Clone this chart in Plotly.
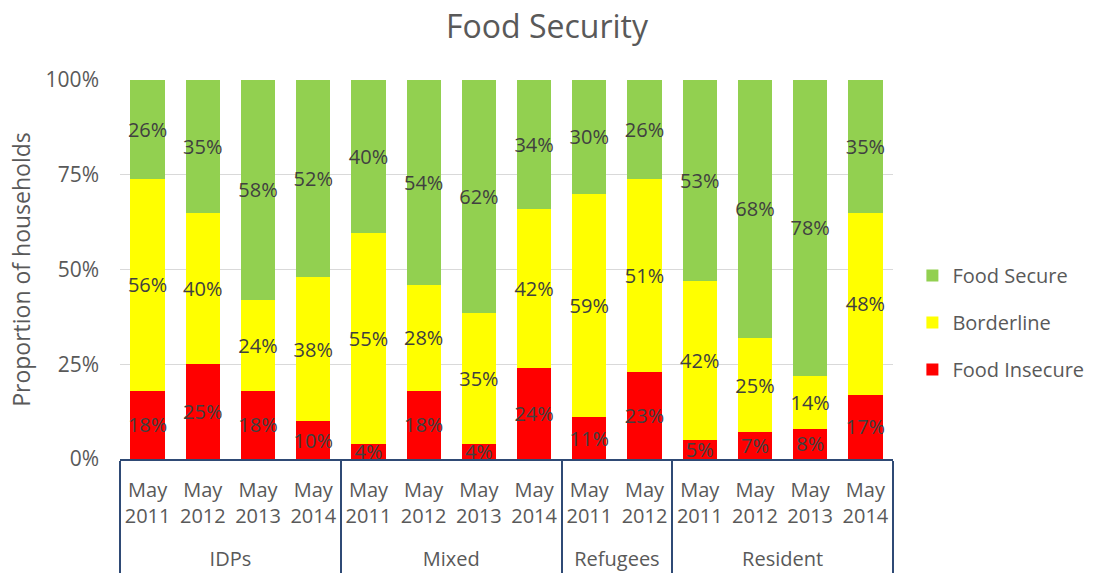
import plotly.graph_objects as go

groups = ["<br>IDPs"] * 4 + ["<br>Mixed"] * 4 + ["<br>Refugees"] * 2 + ["<br>Resident"] * 4
periods = ["May<br>2011", "May<br>2012", "May<br>2013", "May<br>2014",
           "May<br>2011", "May<br>2012", "May<br>2013", "May<br>2014",
           "May<br>2011", "May<br>2012",
           "May<br>2011", "May<br>2012", "May<br>2013", "May<br>2014"]

food_insecure = [18, 25, 18, 10, 4, 18, 4, 24, 11, 23, 5, 7, 8, 17]
borderline = [56, 40, 24, 38, 55, 28, 35, 42, 59, 51, 42, 25, 14, 48]
food_secure = [26, 35, 58, 52, 40, 54, 62, 34, 30, 26, 53, 68, 78, 35]

FONT = "Open Sans"
TXT = "#595959"

series = [
    ("Food Insecure", food_insecure, "#FF0000", 3),
    ("Borderline", borderline, "#FFFF00", 2),
    ("Food Secure", food_secure, "#92D050", 1),
]

fig = go.Figure()
for name, vals, col, rank in series:
    fig.add_trace(go.Bar(
        name=name, x=[groups, periods], y=vals, legendgroup=name, legendrank=rank,
        marker=dict(color=col, line=dict(width=0)),
        text=[f"{v}%" for v in vals], textposition="inside",
        insidetextanchor="middle", textangle=0,
        textfont=dict(family=FONT, size=20, color="#404040"),
        cliponaxis=False,
    ))

fig.update_layout(
    barmode="stack", barnorm="percent", bargap=0.38,
    width=1094, height=579,
    margin=dict(l=120, r=201, t=80, b=120),
    paper_bgcolor="white", plot_bgcolor="white",
    font=dict(family=FONT, color=TXT, size=20),
    title=dict(text="Food Security", x=0.5, xanchor="center", y=0.953, yanchor="middle",
               font=dict(size=32, color=TXT, family=FONT)),
    uniformtext=dict(minsize=20, mode="show"),
    legend=dict(traceorder="grouped", xref="container", x=0.834, xanchor="left",
                y=0.36, yanchor="middle",
                font=dict(size=20, color=TXT), itemsizing="constant", tracegroupgap=18,
                itemwidth=30),
    showlegend=True,
)
fig.update_yaxes(range=[0, 100], tickvals=[0, 25, 50, 75, 100],
                 ticktext=["0%", "25%", "50%", "75%", "100%"],
                 showgrid=True, gridcolor="#D9D9D9", gridwidth=1,
                 zeroline=False, showline=False, ticks="", ticklabelstandoff=20,
                 tickfont=dict(size=21, color=TXT), automargin=False,
                 title=dict(text="Proportion of households", font=dict(size=23, color=TXT), standoff=8))
fig.update_xaxes(type="multicategory", showline=True, linecolor="#2F4A75", linewidth=2,
                 showdividers=True, dividercolor="#2F4A75", dividerwidth=2,
                 ticklabelstandoff=12, tickangle=0, automargin=False,
                 tickfont=dict(size=20, color=TXT), ticks="")

fig.write_html("out.html")
